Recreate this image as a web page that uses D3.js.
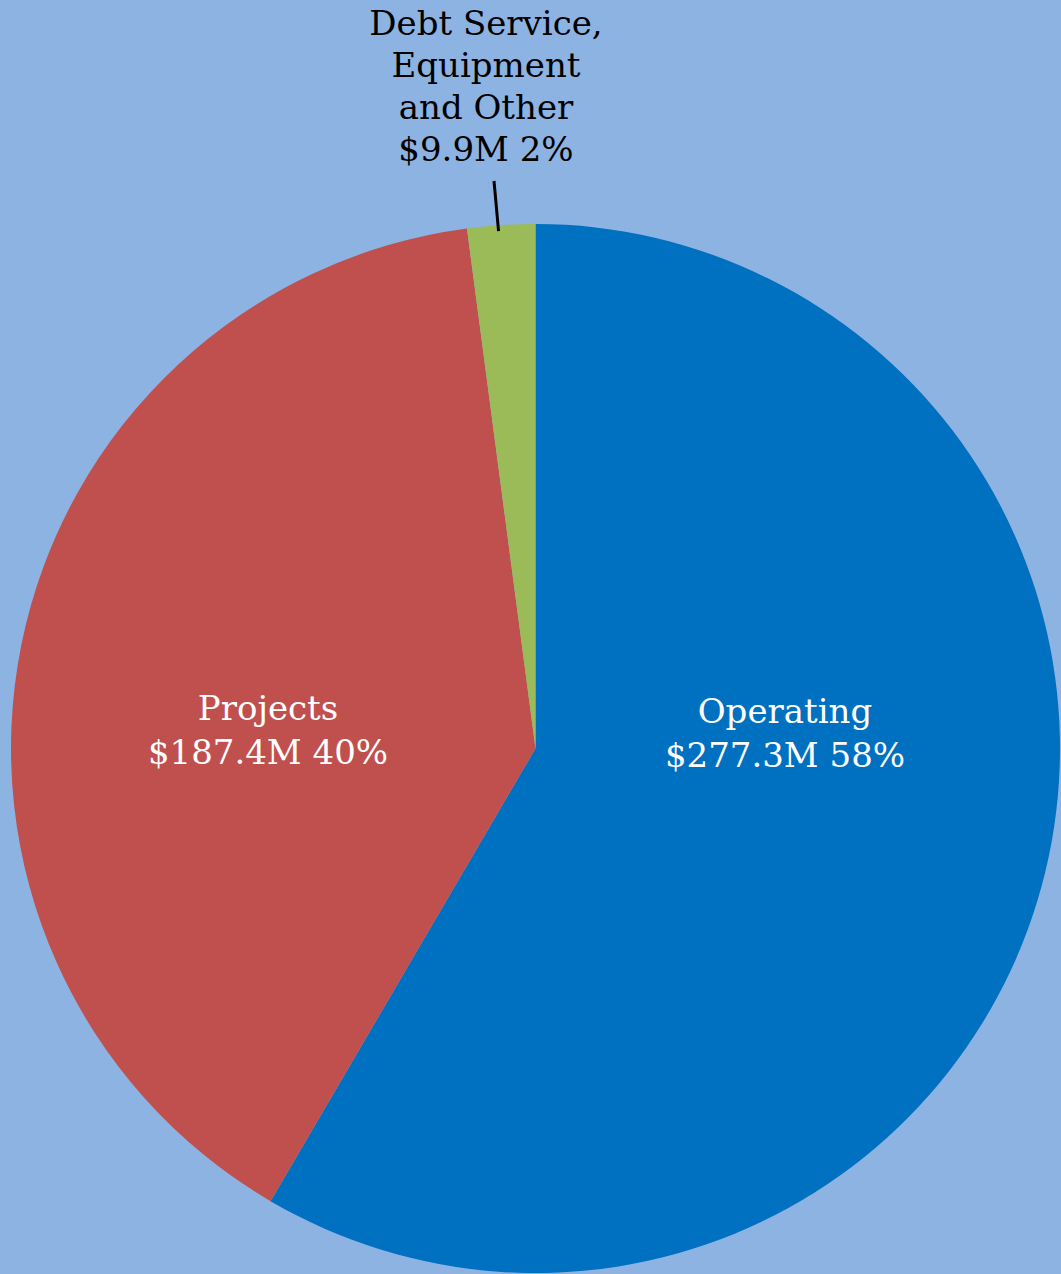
<!DOCTYPE html>
<html>
<head>
<meta charset="utf-8">
<script src="https://cdn.jsdelivr.net/npm/d3@7"></script>
<style>
  body { margin: 0; background: #8DB3E2; }
  svg { display: block; }
</style>
</head>
<body>
<div id="chart"></div>
<script>
var categories = ["Operating", "Projects", "Debt Service, Equipment and Other"];
var amounts = [277.3, 187.4, 9.9];
var amountLabels = ["$277.3M", "$187.4M", "$9.9M"];
var percentLabels = ["58%", "40%", "2%"];

var width = 1061;
var height = 1274;
var cx = 535.5, cy = 748.5, radius = 524.5;

var colors = ["#0070C0", "#C0504D", "#9BBB59"];
var textColors = ["#ffffff", "#ffffff", "#000000"];

// label lines and where they sit (layout only)
var labelLines = [
    ["Operating"],
    ["Projects"],
    ["Debt Service,", "Equipment", "and Other"]
];
var labelPos = [
    { x: 785, y: 723 },
    { x: 268, y: 720 },
    { x: 486, y: 35 }
];
var lineH = 42;

var data = categories.map(function (c, i) {
    return { name: c, value: amounts[i], i: i };
});

var svg = d3.select("#chart").append("svg")
    .attr("width", width)
    .attr("height", height);

svg.append("rect")
    .attr("width", width)
    .attr("height", height)
    .attr("fill", "#8DB3E2");

var pie = d3.pie()
    .value(function (d) { return d.value })
    .sort(null);

var arc = d3.arc()
    .innerRadius(0)
    .outerRadius(radius);

var arcs = pie(data);

var g = svg.append("g")
    .attr("transform", `translate(${cx},${cy})`);

g.selectAll("path.slice")
    .data(arcs)
    .enter().append("path")
    .attr("class", "slice")
    .attr("fill", function (d) { return colors[d.data.i] })
    .attr("d", arc);

// leader line for the small slice
var small = arcs[2];
var mid = (small.startAngle + small.endAngle) / 2;
var endR = radius - 6;
svg.append("line")
    .attr("x1", 494)
    .attr("y1", 181)
    .attr("x2", cx - 3 + endR * Math.sin(mid))
    .attr("y2", cy - endR * Math.cos(mid))
    .attr("stroke", "#000")
    .attr("stroke-width", 3);

arcs.forEach(function (a) {
    var i = a.data.i;
    var lines = labelLines[i].concat([amountLabels[i] + " " + percentLabels[i]]);
    var t = svg.append("text")
        .attr("text-anchor", "middle")
        .attr("font-family", "'DejaVu Serif', serif")
        .attr("font-size", 34)
        .attr("fill", textColors[i])
        .attr("x", labelPos[i].x)
        .attr("y", labelPos[i].y);
    lines.forEach(function (l, k) {
        t.append("tspan")
            .attr("x", labelPos[i].x)
            .attr("dy", k == 0 ? 0 : (k == lines.length - 1 && i < 2 ? 44 : lineH))
            .text(l);
    });
});
</script>
</body>
</html>
